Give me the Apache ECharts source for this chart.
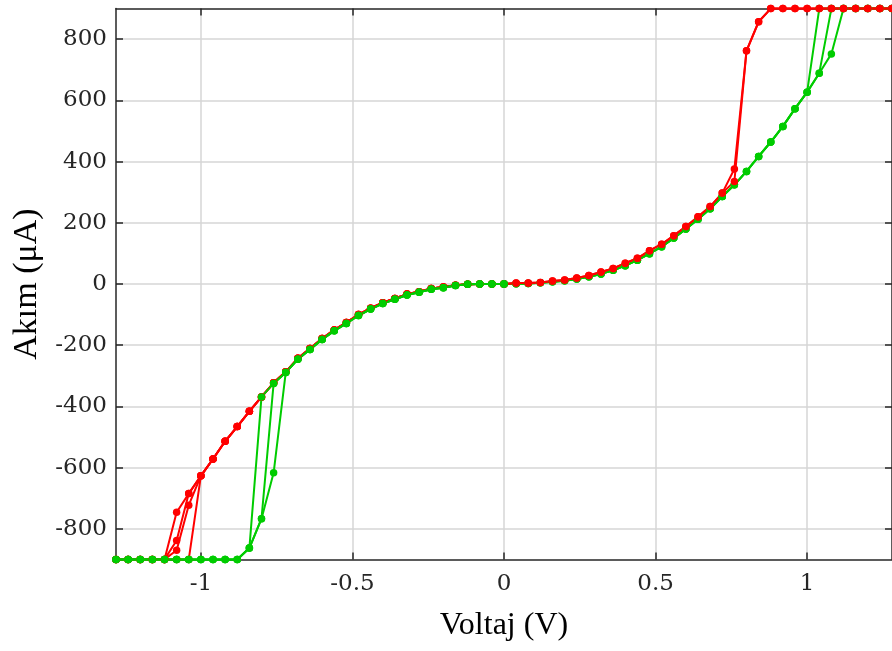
<!DOCTYPE html>
<html>
<head>
<meta charset="utf-8">
<title>Akım - Voltaj</title>
<script src="https://cdn.jsdelivr.net/npm/echarts@6/dist/echarts.min.js"></script>
<style>
  html, body { margin: 0; padding: 0; background: #ffffff; }
  #chart { width: 892px; height: 651px; }
</style>
</head>
<body>
<div id="chart"></div>
<script>
// Voltage steps (V): 0 → +1.28 and 0 → -1.28 in 0.04 V increments
const voltPos = [0, 0.04, 0.08, 0.12, 0.16, 0.2, 0.24, 0.28, 0.32, 0.36, 0.4, 0.44, 0.48, 0.52, 0.56, 0.6,
  0.64, 0.68, 0.72, 0.76, 0.8, 0.84, 0.88, 0.92, 0.96, 1.0, 1.04, 1.08, 1.12, 1.16, 1.2, 1.24, 1.28];
const voltNeg = voltPos.map(v => -v);

// Current (µA) — positive sweeps, green
const greenUp1 = [0, 1, 2, 4, 7, 11, 16, 24, 33, 45, 60, 78, 99, 122, 150, 180, 212, 246, 286, 324, 368,
  417, 464, 515, 573, 627, 900, 900, 900, 900, 900, 900, 900];
const greenUp2 = [0, 1, 2, 4, 7, 11, 16, 24, 33, 45, 60, 78, 99, 122, 150, 180, 212, 246, 286, 324, 368,
  417, 464, 515, 573, 627, 689, 900, 900, 900, 900, 900, 900];
const greenUp3 = [0, 1, 2, 4, 7, 11, 16, 24, 33, 45, 60, 78, 99, 122, 150, 180, 212, 246, 286, 324, 368,
  417, 464, 515, 573, 627, 689, 752, 900, 900, 900, 900, 900];

// Current (µA) — positive sweeps, red
const redUp1 = [0, 3, 3, 5, 10, 13, 20, 28, 39, 51, 68, 84, 109, 130, 158, 188, 220, 253, 297, 376, 762,
  857, 900, 900, 900, 900, 900, 900, 900, 900, 900, 900, 900];
const redUp2 = [0, 3, 3, 5, 10, 13, 20, 28, 39, 51, 68, 84, 109, 130, 158, 188, 220, 253, 297, 335, 762,
  857, 900, 900, 900, 900, 900, 900, 900, 900, 900, 900, 900];

// Current (µA) — negative sweeps, red
const redDown1 = [0, 0, 0, -1, -4, -10, -15, -25, -33, -47, -61, -79, -100, -126, -150, -178, -211, -243,
  -287, -323, -369, -416, -466, -514, -572, -627, -900, -900, -900, -900, -900, -900, -900];
const redDown2 = [0, 0, 0, -1, -4, -10, -15, -25, -33, -47, -61, -79, -100, -126, -150, -178, -211, -243,
  -287, -323, -369, -416, -466, -514, -572, -627, -685, -746, -900, -900, -900, -900, -900];
const redDown3 = [0, 0, 0, -1, -4, -10, -15, -25, -33, -47, -61, -79, -100, -126, -150, -178, -211, -243,
  -287, -323, -369, -416, -466, -514, -572, -627, -685, -838, -900, -900, -900, -900, -900];
const redDown4 = [0, 0, 0, -1, -4, -10, -15, -25, -33, -47, -61, -79, -100, -126, -150, -178, -211, -243,
  -287, -323, -369, -416, -466, -514, -572, -627, -723, -870, -900, -900, -900, -900, -900];

// Current (µA) — negative sweeps, green
const greenDown1 = [0, 0, 0, -1, -5, -12, -17, -27, -36, -50, -64, -82, -103, -129, -153, -181, -214, -246,
  -289, -325, -369, -863, -900, -900, -900, -900, -900, -900, -900, -900, -900, -900, -900];
const greenDown2 = [0, 0, 0, -1, -5, -12, -17, -27, -36, -50, -64, -82, -103, -129, -153, -181, -214, -246,
  -289, -325, -767, -863, -900, -900, -900, -900, -900, -900, -900, -900, -900, -900, -900];
const greenDown3 = [0, 0, 0, -1, -5, -12, -17, -27, -36, -50, -64, -82, -103, -129, -153, -181, -214, -246,
  -289, -617, -767, -863, -900, -900, -900, -900, -900, -900, -900, -900, -900, -900, -900];

// Tick labels
const xTicks = [-1, -0.5, 0, 0.5, 1];
const yTicks = [-800, -600, -400, -200, 0, 200, 400, 600, 800];

const RED = '#ff0000';
const GREEN = '#00cc00';
const INK = '#262626';

function sweep(volts, amps, color) {
  return {
    type: 'line',
    data: volts.map((v, i) => [v, amps[i]]),
    symbol: 'circle',
    symbolSize: 7.5,
    showSymbol: true,
    clip: false,
    color: color,
    itemStyle: { color: color },
    lineStyle: { color: color, width: 2 },
    emphasis: { disabled: true },
    animation: false
  };
}

// Drawing order: green over red on the negative branch, red over green on the positive branch
const series = [
  sweep(voltPos, greenUp1, GREEN),
  sweep(voltPos, greenUp2, GREEN),
  sweep(voltPos, greenUp3, GREEN),
  sweep(voltPos, redUp1, RED),
  sweep(voltPos, redUp2, RED),
  sweep(voltNeg, redDown1, RED),
  sweep(voltNeg, redDown2, RED),
  sweep(voltNeg, redDown3, RED),
  sweep(voltNeg, redDown4, RED),
  sweep(voltNeg, greenDown1, GREEN),
  sweep(voltNeg, greenDown2, GREEN),
  sweep(voltNeg, greenDown3, GREEN)
];

const tickFont = { fontFamily: 'DejaVu Serif', fontSize: 23, color: INK };
const gridLine = { show: true, lineStyle: { color: '#d6d6d6', width: 1.5 } };
const axisLine = { show: true, onZero: false, lineStyle: { color: INK, width: 1.5 } };

const chart = echarts.init(document.getElementById('chart'), null, { renderer: 'canvas' });
chart.setOption({
  animation: false,
  backgroundColor: '#ffffff',
  grid: { left: 116, top: 8.6, width: 779.5, height: 550.8, containLabel: false },
  xAxis: [
    {
      type: 'value', min: -1.28, max: 1.28, position: 'bottom',
      axisLine: axisLine,
      axisTick: { show: true, inside: true, length: 7, customValues: xTicks, lineStyle: { color: INK, width: 1.5 } },
      axisLabel: { show: true, customValues: xTicks, margin: 13, ...tickFont,
        formatter: v => String(v) },
      splitLine: gridLine,
      name: 'Voltaj (V)', nameLocation: 'middle', nameGap: 50,
      nameTextStyle: { fontFamily: 'Liberation Serif', fontSize: 32, color: '#000000' }
    },
    {
      type: 'value', min: -1.28, max: 1.28, position: 'top',
      axisLine: axisLine,
      axisTick: { show: true, inside: true, length: 7, customValues: xTicks, lineStyle: { color: INK, width: 1.5 } },
      axisLabel: { show: false },
      splitLine: { show: false }
    }
  ],
  yAxis: [
    {
      type: 'value', min: -900, max: 900, position: 'left',
      axisLine: axisLine,
      axisTick: { show: true, inside: true, length: 7, customValues: yTicks, lineStyle: { color: INK, width: 1.5 } },
      axisLabel: { show: true, customValues: yTicks, margin: 9, ...tickFont },
      splitLine: gridLine,
      name: 'Akım (μA)', nameLocation: 'middle', nameGap: 71,
      nameTextStyle: { fontFamily: 'Liberation Serif', fontSize: 34, color: '#000000' }
    },
    {
      type: 'value', min: -900, max: 900, position: 'right',
      axisLine: axisLine,
      axisTick: { show: true, inside: true, length: 7, customValues: yTicks, lineStyle: { color: INK, width: 1.5 } },
      axisLabel: { show: false },
      splitLine: { show: false }
    }
  ],
  series: series
});
</script>
</body>
</html>
